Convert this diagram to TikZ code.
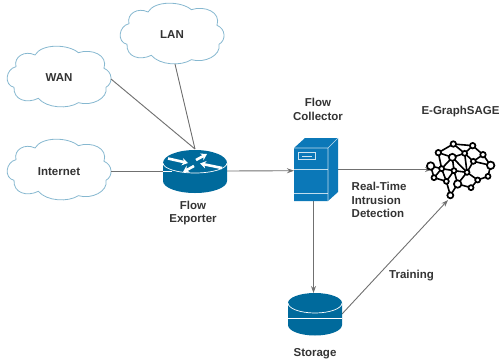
\documentclass[tikz,border=0pt]{standalone}
\usepackage{fontspec}
\setmainfont{Liberation Sans}
\usetikzlibrary{arrows.meta,calc}
\definecolor{ciscoblue}{HTML}{006A9C}
\definecolor{serverblue}{HTML}{0B78B8}
\definecolor{cloudline}{HTML}{86B8D0}
\definecolor{linegrey}{HTML}{707070}
\definecolor{labelgrey}{HTML}{333333}
\tikzset{
  label text/.style={font=\fontsize{11.5}{13.5}\selectfont\bfseries,text=labelgrey,align=center,inner sep=0pt},
  anchorbox/.style={inner sep=0pt,outer sep=0pt,minimum width=#1},
  cloudtext/.style={label text,minimum width=104pt,minimum height=61pt,outer sep=0pt},
  link/.style={draw=linegrey,line width=0.9pt},
  flow/.style={link,-{Stealth[length=7pt,width=5pt]}},
  cloudstroke/.style={draw=cloudline,line width=0.8pt,fill=white},
  white arrow/.style={draw=white,line width=2.6pt,-{Stealth[length=6pt,width=7.5pt]}},
  gn/.style={circle,draw=black,fill=white,line width=1.7pt,inner sep=0pt,minimum size=#1},
  ge/.style={draw=black,line width=1.6pt},
}
\newcommand{\cloudshape}[2]{%
  \begin{scope}[shift={(#1,#2)},x=0.3333pt,y=-0.3333pt]
    \path[cloudstroke] (42,262) .. controls (11,255) and (17,207) .. (48,200)
      .. controls (40,170) and (75,150) .. (105,165)
      .. controls (125,130) and (205,132) .. (235,158)
      .. controls (275,145) and (325,165) .. (312,205)
      .. controls (338,215) and (340,250) .. (318,262)
      .. controls (325,295) and (275,320) .. (235,308)
      .. controls (205,328) and (140,325) .. (115,295)
      .. controls (80,312) and (40,300) .. (42,262) -- cycle;
  \end{scope}}
\begin{document}
\begin{tikzpicture}[x=1pt,y=-1pt]
\useasboundingbox (0,0) rectangle (500,362);
% clouds
\cloudshape{0}{0}
\cloudshape{0}{93}
\cloudshape{113}{-43}
\node[cloudtext] (wan) at (59,78) {WAN};
\node[cloudtext] (internet) at (59,172) {Internet};
\node[cloudtext] (lan) at (172,35) {LAN};
% named shape holders
\node[anchorbox=64pt,minimum height=44pt] (router) at (195,171) {};
\node[anchorbox=44pt,minimum height=63pt] (server) at (316,169.5) {};
\node[anchorbox=54pt,minimum height=42pt] (storage) at (315,314) {};
\coordinate (wanE) at (111,79);
\coordinate (internetE) at (111,171);
\coordinate (lanS) at (175,64);
\coordinate (srvS) at (313.5,201);
\coordinate (stoN) at (313.5,293);
\coordinate (brainW) at (432,169.5);
\coordinate (brainS) at (448,200);
% connectors
\draw[link] (wanE) -- (router.north);
\draw[link] (lanS) -- (router.north);
\draw[link] (internetE) -- (router.west);
\draw[flow] (router.east) -- (294,170.7);
\draw[flow] (server.east) -- (brainW);
\draw[flow] (srvS) -- (stoN);
\draw[flow] (storage.east) -- (brainS);
% router
\fill[ciscoblue] (163,163) -- (163,181) arc[start angle=180,end angle=0,x radius=32,y radius=12] -- (227,163) arc[start angle=0,end angle=-180,x radius=32,y radius=13] -- cycle;
\draw[white,line width=0.7pt] (163,171) -- (172,171);
\draw[white,line width=0.7pt] (163,163) arc[start angle=180,end angle=0,x radius=32,y radius=10];
\draw[white arrow] (168,158.5) -- (188,163);
\draw[white arrow] (196,160) -- (207,154);
\draw[white arrow] (222,168) -- (200,163.5);
\draw[white arrow] (194,166) -- (183,172);
% server
\fill[serverblue] (294,148) -- (305,138) -- (338,138) -- (338,192) -- (328,201) -- (294,201) -- cycle;
\draw[white,line width=0.6pt,opacity=0.75] (294,148) -- (328,148) -- (338,138) (328,148) -- (328,201);
\draw[white,line width=0.7pt,opacity=0.75] (294,169) -- (328,169) (294,193) -- (328,193);
\draw[white,line width=0.7pt,opacity=0.8] (298,152.5) rectangle (315.5,159);
\draw[white,line width=0.7pt,opacity=0.8] (302,156) -- (311.5,156);
% storage
\fill[ciscoblue] (288,303) -- (288,325) arc[start angle=180,end angle=0,x radius=27,y radius=10.5] -- (342,303) arc[start angle=0,end angle=-180,x radius=27,y radius=10] -- cycle;
\draw[white,line width=0.7pt] (288,303) arc[start angle=180,end angle=0,x radius=27,y radius=10];
\draw[white,line width=1pt] (288,318) -- (342,318);
% brain
\begin{scope}[shift={(420,120)},x=0.3333pt,y=-0.3333pt]
  \foreach \n/\px/\py in {a/100/72,b/158/77,c/55/98,d/97/112,e/134/100,f/189/104,g/32/138,h/65/146,i/102/152,j/160/124,k/212/136,l/141/157,m/42/173,o/79/184,p/173/180,q/204/169,r/113/192,s/153/203,t/91/226}
    \coordinate (c\n) at (\px,\py);
  \foreach \u/\v in {c/a,a/e,c/d,c/h,d/e,d/h,d/i,e/b,e/j,b/f,f/j,f/k,j/k,j/l,e/l,l/i,l/p,p/q,k/q,d/l,g/h,g/m,h/m,h/o,h/i,m/o,i/r,o/t,r/l,r/s,s/p,r/t,i/o,a/b}
    \draw[ge] (c\u) -- (c\v);
  \foreach \n/\s in {a/5.5pt,b/5.5pt,c/5.5pt,d/7pt,e/5pt,f/5.5pt,g/7.5pt,h/5pt,i/5pt,j/5pt,k/7.5pt,l/5pt,m/5pt,o/5pt,p/5pt,q/5pt,r/7.5pt,s/5pt,t/6pt}
    \node[gn=\s] (brain\n) at (c\n) {};
\end{scope}
% labels
\node[label text] (lblExporter) at (193,213) {Flow\\Exporter};
\node[label text] (lblCollector) at (318,109.5) {Flow\\Collector};
\node[label text] (lblSage) at (460.5,112) {E-GraphSAGE};
\node[label text,align=left,anchor=west] (lblRT) at (351.5,200) {Real-Time\\Intrusion\\Detection};
\node[label text] (lblTraining) at (411.5,276) {Training};
\node[label text] (lblStorage) at (315,354) {Storage};
\end{tikzpicture}
\end{document}
